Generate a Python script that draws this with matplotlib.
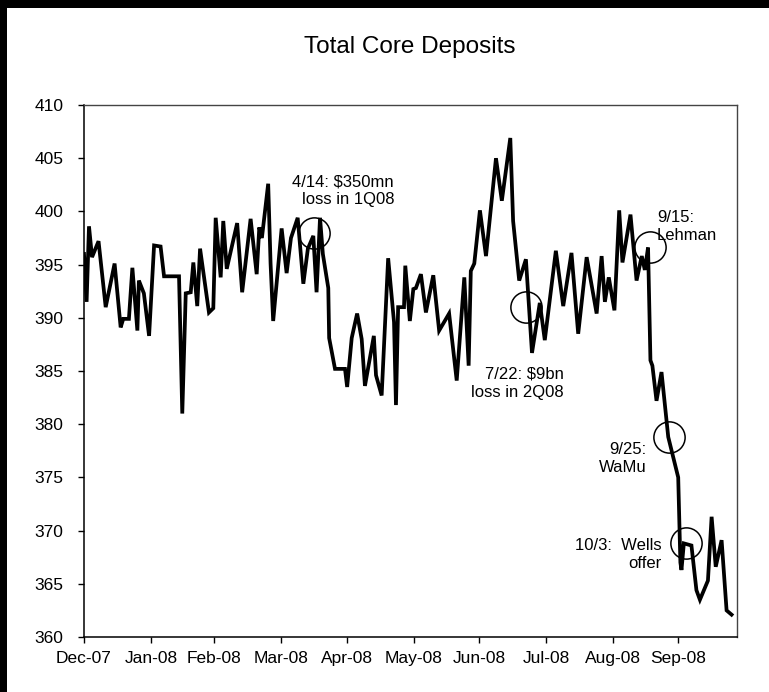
import matplotlib
matplotlib.use("Agg")
import matplotlib.pyplot as plt
from matplotlib.patches import Rectangle

plt.rcParams['font.family'] = ['Liberation Sans', 'DejaVu Sans']

# ---- data (x = days after 31-Dec-2007 on the chart's axis) ----
days = [0.0, 1.2, 2.3, 3.7, 6.7, 10.0, 14.1, 16.9, 18.1, 20.7, 22.3, 24.6, 25.3, 27.6, 30.0,
        32.3, 35.3, 36.9, 43.8, 45.3, 46.9, 49.2, 50.4, 52.2, 53.5, 57.6, 59.6, 60.7, 63.0,
        64.2, 65.8, 70.6, 72.9, 76.8, 79.6, 80.8, 82.0, 84.9, 86.0, 87.2, 91.1, 93.4, 95.4,
        98.5, 101.1, 103.2, 105.7, 107.2, 108.8, 110.1, 112.6, 113.0, 115.7, 120.3, 121.3,
        123.4, 125.9, 128.0, 129.5, 133.6, 134.6, 137.2, 140.2, 142.9, 143.8, 144.8, 147.5,
        148.1, 150.2, 151.8, 153.0, 155.3, 157.6, 161.0, 163.7, 168.3, 171.8, 175.3, 177.3,
        178.3, 179.9, 182.5, 185.3, 189.9, 192.6, 196.5, 197.8, 200.6, 203.7, 206.5, 210.1,
        212.4, 217.5, 220.9, 224.7, 227.8, 231.7, 236.3, 238.6, 240.1, 241.9, 244.5, 246.7,
        248.2, 251.9, 254.7, 257.1, 258.5, 260.0, 261.1, 262.0, 263.9, 266.2, 269.3, 273.9,
        274.9, 275.4, 276.5, 280.0, 282.3, 283.9, 287.6, 289.3, 291.2, 293.9, 296.2, 298.5]
deposits = [396.0, 391.5, 398.6, 395.7, 397.2, 391.0, 395.1, 389.1, 389.9, 389.9, 394.7, 388.8,
            393.5, 392.3, 388.3, 396.8, 396.7, 393.9, 393.9, 381.0, 392.3, 392.4, 395.2, 391.1,
            396.5, 390.5, 390.9, 399.4, 393.8, 399.1, 394.6, 398.9, 392.4, 399.3, 394.1, 398.5,
            397.5, 402.6, 395.1, 389.7, 398.4, 394.2, 397.5, 399.4, 393.2, 396.5, 397.7, 392.4,
            399.4, 396.0, 392.8, 388.1, 385.2, 385.2, 383.5, 388.1, 390.4, 388.0, 383.6, 388.3,
            384.6, 382.7, 395.6, 389.6, 381.8, 391.0, 391.0, 394.9, 389.7, 392.7, 392.8, 394.1,
            390.5, 394.0, 388.8, 390.4, 384.1, 393.8, 385.5, 394.4, 395.1, 400.1, 395.8, 405.0,
            401.0, 406.9, 399.1, 393.5, 395.5, 386.7, 391.4, 387.9, 396.3, 391.1, 396.1, 388.5,
            395.7, 390.4, 395.8, 391.5, 393.8, 390.7, 400.1, 395.2, 399.7, 393.5, 395.8, 394.5,
            396.6, 386.0, 385.5, 382.2, 384.9, 378.8, 375.0, 367.0, 366.3, 368.8, 368.6, 364.4,
            363.5, 365.3, 371.3, 366.6, 369.1, 362.5, 362.1]

tick_days = [0, 31, 60, 91, 121, 152, 182, 213, 244, 274]
tick_labels = ["Dec-07", "Jan-08", "Feb-08", "Mar-08", "Apr-08", "May-08",
               "Jun-08", "Jul-08", "Aug-08", "Sep-08"]
y_ticks = [360, 365, 370, 375, 380, 385, 390, 395, 400, 405, 410]

event_labels = ["4/14: $350mn\nloss in 1Q08", "7/22: $9bn\nloss in 2Q08",
                "9/15:\nLehman", "9/25:\nWaMu", "10/3:  Wells\noffer"]
event_circle_x = [106.1, 203.9, 260.8, 269.5, 277.7]
event_circle_y = [398.0, 391.05, 396.7, 378.8, 368.8]
event_text_x = [142.9, 221.2, 264.1, 259.4, 266.4]
event_text_y = [401.95, 383.85, 398.55, 376.75, 367.8]
event_text_ha = ["right", "right", "left", "right", "right"]

# ---- figure ----
W, H = 769, 692
fig = plt.figure(figsize=(W / 100, H / 100), dpi=100, facecolor='white')
ax = fig.add_axes([84 / W, 1 - 637 / H, (737 - 84) / W, (637 - 105) / H])

ax.plot(days, deposits, color='black', lw=2.7, solid_joinstyle='miter', zorder=3)

for cx, cy in zip(event_circle_x, event_circle_y):
    ax.plot([cx], [cy], marker='o', markersize=22.5, markerfacecolor='none',
            markeredgecolor='black', markeredgewidth=1.1, zorder=4)
for lab, tx, ty, ha in zip(event_labels, event_text_x, event_text_y, event_text_ha):
    ax.text(tx, ty, lab, ha=ha, va='center', multialignment=ha,
            fontsize=12, color='black', linespacing=1.25, zorder=5)

ax.set_xlim(0, 301)
ax.set_ylim(360, 410)
ax.set_xticks(tick_days)
ax.set_xticklabels(tick_labels)
ax.set_yticks(y_ticks)
ax.set_yticklabels([str(v) for v in y_ticks])
ax.tick_params(axis='both', direction='out', length=4, width=1, color='black',
               labelsize=12.5)
ax.tick_params(axis='x', pad=6)
ax.tick_params(axis='y', pad=11)

for side in ['left', 'bottom']:
    ax.spines[side].set_color('black')
    ax.spines[side].set_linewidth(1.1)
for side in ['top', 'right']:
    ax.spines[side].set_color('#444444')
    ax.spines[side].set_linewidth(1.0)

fig.text(410 / W, 1 - 47 / H, "Total Core Deposits", ha='center', va='center',
         fontsize=17.5, color='black')

# black frame around the picture
fig.add_artist(Rectangle((0, 1 - 8 / H), 1, 8 / H, transform=fig.transFigure,
                         facecolor='black', edgecolor='none'))
fig.add_artist(Rectangle((0, 0), 7 / W, 1, transform=fig.transFigure,
                         facecolor='black', edgecolor='none'))

fig.savefig("out.png", dpi=100, facecolor='white')
